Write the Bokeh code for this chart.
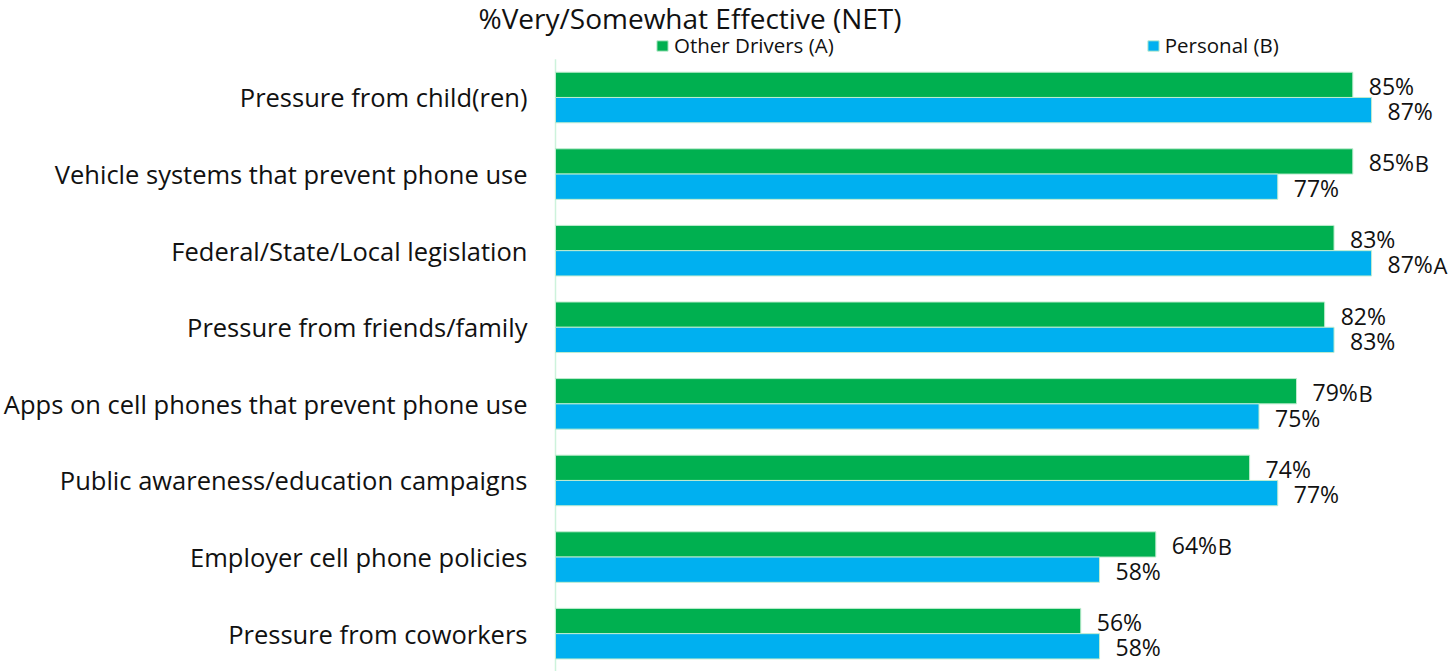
from bokeh.plotting import figure
from bokeh.models import ColumnDataSource, Range1d, Legend, LegendItem, Label
from bokeh.transform import dodge
from bokeh.core.properties import value
from bokeh.embed import file_html
from bokeh.resources import INLINE

title_text = "%Very/Somewhat Effective (NET)"
categories = [
    "Pressure from child(ren)",
    "Vehicle systems that prevent phone use",
    "Federal/State/Local legislation",
    "Pressure from friends/family",
    "Apps on cell phones that prevent phone use",
    "Public awareness/education campaigns",
    "Employer cell phone policies",
    "Pressure from coworkers",
]
series_names = ["Other Drivers (A)", "Personal (B)"]
other_drivers = [85, 85, 83, 82, 79, 74, 64, 56]
personal = [87, 77, 87, 83, 75, 77, 58, 58]
sig_other = ["", "B", "", "", "B", "", "B", ""]
sig_personal = ["", "", "A", "", "", "", "", ""]

GREEN = "#00B050"
BLUE = "#00B0F0"
FONT = "Open Sans"
TXT = "#111111"

n = len(categories)
ypos = [n - 1 - i for i in range(n)]  # first category on top

source = ColumnDataSource(dict(
    y=ypos,
    cat=categories,
    a=other_drivers,
    b=personal,
    a_lbl=[f"{v}%" for v in other_drivers],
    b_lbl=[f"{v}%" for v in personal],
    a_sig=sig_other,
    b_sig=sig_personal,
))

W, H = 1450, 671
PX_PER_PCT = 9.38
ZERO_PX = 555

p = figure(
    width=W, height=H,
    y_range=Range1d(-0.494, 8.266),
    x_range=Range1d(-ZERO_PX / PX_PER_PCT, (W - ZERO_PX) / PX_PER_PCT),
    x_axis_location=None, y_axis_location=None,
    output_backend="svg", toolbar_location=None,
    min_border_left=0, min_border_right=0, min_border_top=0, min_border_bottom=0,
)
p.outline_line_color = None
p.xgrid.visible = False
p.ygrid.visible = False
p.background_fill_color = "white"
p.border_fill_color = "white"

# category axis line (spans the category band only)
p.segment(x0=[0], y0=[-0.5], x1=[0], y1=[n - 0.5], line_color="#cdf3dc", line_width=1.5)

# category labels
p.text(x=0, y="y", text="cat", source=source, x_offset=-28, text_align="right",
       text_baseline="middle", text_font=value(FONT), text_font_size=value("25.5px"),
       text_color=TXT)

off = 0.165
h = 0.33
ya = dodge("y", off)
yb = dodge("y", -off)

ra = p.hbar(y=ya, right="a", left=0, height=h, source=source,
            fill_color=GREEN, line_color="#bfeccf", line_width=1)
rb = p.hbar(y=yb, right="b", left=0, height=h, source=source,
            fill_color=BLUE, line_color="#bfeccf", line_width=1)

common = dict(source=source, text_baseline="middle", text_align="left",
              text_font=value(FONT), text_color=TXT)
p.text(x="a", y=ya, text="a_lbl", x_offset=16, y_offset=1, text_font_size=value("23px"), **common)
p.text(x="b", y=yb, text="b_lbl", x_offset=16, y_offset=1, text_font_size=value("23px"), **common)
p.text(x="a", y=ya, text="a_sig", x_offset=62, y_offset=2, text_font_size=value("22px"), **common)
p.text(x="b", y=yb, text="b_sig", x_offset=62, y_offset=2, text_font_size=value("22px"), **common)

legend = Legend(
    items=[LegendItem(label=series_names[0], renderers=[ra]),
           LegendItem(label=series_names[1], renderers=[rb])],
    orientation="horizontal",
    location=(655, 612),
    glyph_width=14, glyph_height=13,
    label_standoff=5,
    spacing=312,
    padding=0, margin=0,
    border_line_color=None,
    background_fill_alpha=0,
    label_text_font=FONT,
    label_text_font_size="20.5px",
    label_text_color=TXT,
)
p.add_layout(legend)

p.add_layout(Label(x=478, y=654, x_units="screen", y_units="screen", text=title_text,
                   text_font=FONT, text_font_size="28px", text_baseline="alphabetic",
                   text_color=TXT))

open("out.html", "w").write(file_html(p, INLINE))
